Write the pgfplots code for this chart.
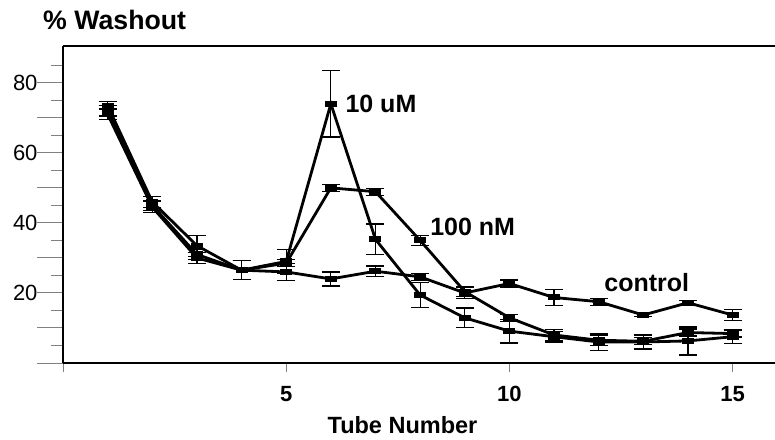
\documentclass[border=0pt]{standalone}
\usepackage{pgfplots}
\pgfplotsset{compat=1.18}
\usepackage{pgfplotstable}
\usepackage{fontspec}
\setmainfont{Liberation Sans}

\pgfplotstableread{
x y e
1 73.5 1.2
2 46 1.5
3 33.5 3
4 26.5 2.7
5 29 3.5
6 74 9.5
7 35.3 4.4
8 19.4 3.5
9 12.9 2.8
10 9.1 3.4
11 7.5 1.5
12 6 2.5
13 6 2
14 6.3 4
15 7.5 2
}\tenuM

\pgfplotstableread{
x y e
1 72 1.5
2 45 1.5
3 31 1.5
4 26.5 2.7
5 28.5 1
6 50 1
7 48.9 1
8 35 1.5
9 20.4 1.5
10 12.9 1
11 8 1.5
12 6.5 1.5
13 6.2 1
14 8.7 1
15 8.4 1
}\hundrednM

\pgfplotstableread{
x y e
1 71 1.5
2 44.5 1.5
3 30 1.5
4 26.5 2.7
5 26 2.5
6 24 2
7 26.2 1.5
8 24.6 1
9 20 1.5
10 22.7 1
11 18.7 2.2
12 17.5 1
13 13.7 0.5
14 17.2 0.7
15 13.7 1.5
}\control

\pgfplotsset{dataline/.style={black, line width=2.8bp, mark=-, mark size=6bp,
    mark options={line width=6bp},
    error bars/.cd, y dir=both, y explicit,
    error bar style={line width=1.2bp},
    error mark options={rotate=90, line width=1.2bp, mark size=9bp}}}

\begin{document}
\begin{tikzpicture}
\path[use as bounding box] (-63bp,-77bp) rectangle (712bp,363bp);
\begin{axis}[
  at={(0,0)}, anchor=south west,
  scale only axis, width=712bp, height=317bp,
  xmin=0, xmax=15.95, ymin=0, ymax=90.5,
  axis x line*=bottom, axis y line*=left,
  axis line style={-, line width=1.3bp},
  tick align=outside,
  xtick={0,5,10,15},
  xticklabels={,5,10,15},
  ytick={0,10,...,80},
  yticklabels={,,20,,40,,60,,80},
  minor ytick={5,15,...,85},
  major tick length=26bp,
  minor tick length=12bp,
  xtick style={/pgfplots/major tick length=9bp, line width=1bp},
  ytick style={line width=1bp},
  minor tick style={line width=1bp},
  /pgf/number format/assume math mode=true,
  yticklabel style={font=\fontsize{22bp}{24bp}\selectfont, anchor=east, xshift=4bp},
  xticklabel style={font=\fontsize{22bp}{24bp}\selectfont\bfseries, anchor=north, yshift=6.5bp},
  clip=false,
]
\addplot[dataline] table[x=x, y=y, y error=e] {\tenuM};
\addplot[dataline] table[x=x, y=y, y error=e] {\hundrednM};
\addplot[dataline] table[x=x, y=y, y error=e] {\control};
\draw[line width=1.8bp] (rel axis cs:0,1) -- (rel axis cs:1,1);
\node[anchor=west, font=\fontsize{25bp}{27bp}\selectfont\bfseries] at (axis cs:6.25,74) {10 uM};
\node[anchor=west, font=\fontsize{25bp}{27bp}\selectfont\bfseries] at (axis cs:8.15,38.9) {100 nM};
\node[anchor=west, font=\fontsize{25bp}{27bp}\selectfont\bfseries] at (axis cs:12.05,23) {control};
\end{axis}
\node[anchor=west, inner sep=0pt, font=\fontsize{26.7bp}{28bp}\selectfont\bfseries] at (-20bp,343bp) {\% Washout};
\node[inner sep=0pt, font=\fontsize{23.5bp}{26bp}\selectfont\bfseries] at (339.5bp,-62bp) {Tube Number};
\end{tikzpicture}
\end{document}
